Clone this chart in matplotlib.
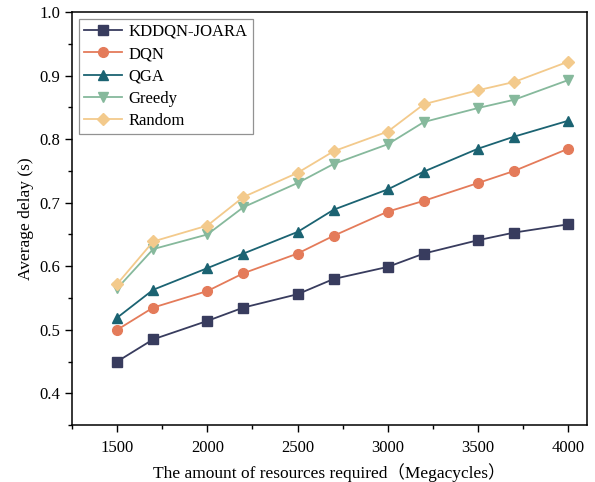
import matplotlib.pyplot as plt
from matplotlib.ticker import MultipleLocator

plt.rcParams['font.family'] = ['Liberation Serif', 'Noto Sans CJK SC']

resources = [1500, 1700, 2000, 2200, 2500, 2700, 3000, 3200, 3500, 3700, 4000]
kddqn = [0.450, 0.485, 0.514, 0.535, 0.556, 0.580, 0.599, 0.620, 0.641, 0.653, 0.666]
dqn = [0.500, 0.535, 0.561, 0.589, 0.620, 0.648, 0.686, 0.703, 0.731, 0.750, 0.785]
qga = [0.519, 0.563, 0.597, 0.620, 0.654, 0.689, 0.721, 0.749, 0.785, 0.804, 0.829]
greedy = [0.565, 0.627, 0.650, 0.693, 0.731, 0.761, 0.792, 0.827, 0.849, 0.862, 0.893]
rand = [0.572, 0.639, 0.664, 0.709, 0.747, 0.781, 0.812, 0.855, 0.877, 0.890, 0.922]

fig = plt.figure(figsize=(5.95, 4.82), dpi=100)
ax = fig.add_axes([0.121, 0.118, 0.866, 0.857])

ax.plot(resources, kddqn, marker='s', color='#383c5e', markersize=6.5, lw=1.3, label='KDDQN-JOARA')
ax.plot(resources, dqn, marker='o', color='#e47b5a', markersize=7, lw=1.3, label='DQN')
ax.plot(resources, qga, marker='^', color='#1b6372', markersize=7.5, lw=1.3, label='QGA')
ax.plot(resources, greedy, marker='v', color='#86b99c', markersize=7.5, lw=1.3, label='Greedy')
ax.plot(resources, rand, marker='D', color='#f3ca8c', markersize=6.5, lw=1.3, label='Random')

ax.set_xlim(1250, 4105)
ax.set_ylim(0.35, 1.0)
ax.xaxis.set_major_locator(MultipleLocator(500))
ax.xaxis.set_minor_locator(MultipleLocator(250))
ax.yaxis.set_major_locator(MultipleLocator(0.1))
ax.yaxis.set_minor_locator(MultipleLocator(0.05))
ax.tick_params(which='both', direction='out', labelsize=12, width=1)
ax.tick_params(which='major', length=5)
ax.tick_params(which='minor', length=3)
ax.tick_params(axis='x', which='major', pad=6)
for s in ax.spines.values():
    s.set_linewidth(1.1)

ax.set_xlabel('The amount of resources required（Megacycles）', fontsize=12.5, labelpad=5)
ax.set_ylabel('Average delay (s)', fontsize=12.5, labelpad=4)

leg = ax.legend(loc='upper left', fontsize=12, fancybox=False, edgecolor='#777777',
                handlelength=2.3, borderpad=0.3, labelspacing=0.38, handletextpad=0.4,
                borderaxespad=0.4)
leg.get_frame().set_linewidth(0.9)

fig.savefig('out.png', dpi=100)
